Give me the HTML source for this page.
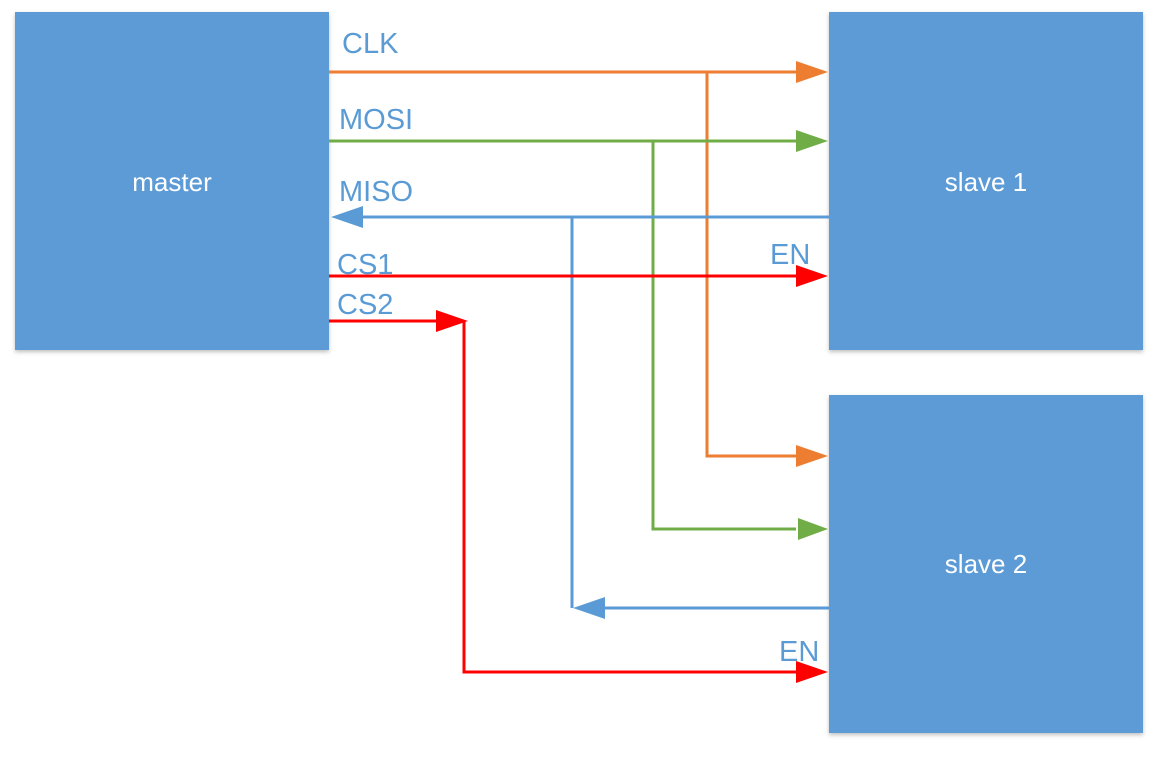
<!DOCTYPE html>
<html><head><style>
body{margin:0;background:#fff;width:1168px;height:752px;overflow:hidden}
</style></head><body>
<svg width="1168" height="752" xmlns="http://www.w3.org/2000/svg" font-family="Liberation Sans, sans-serif">
<defs>
<filter id="s" x="-5%" y="-5%" width="110%" height="110%"><feDropShadow dx="0" dy="2" stdDeviation="2" flood-opacity="0.25"/></filter>
</defs>
<rect x="15" y="12" width="314" height="338" fill="#5b9bd5" filter="url(#s)"/>
<rect x="829" y="12" width="314" height="338" fill="#5b9bd5" filter="url(#s)"/>
<rect x="829" y="395" width="314" height="338" fill="#5b9bd5" filter="url(#s)"/>
<g fill="#fff" font-size="26" text-anchor="middle">
<text x="172" y="191">master</text>
<text x="986" y="191">slave 1</text>
<text x="986" y="573">slave 2</text>
</g>
<g fill="none" stroke-width="3">
<path d="M329 72H796M707 72V456H796" stroke="#ed7d31"/>
<path d="M329 141H796M653 141V529H796" stroke="#70ad47"/>
<path d="M829 217H362M572 217V608M829 608H605" stroke="#5b9bd5"/>
<path d="M329 276H796" stroke="#f00"/>
<path d="M329 321H436M464 321V672H796" stroke="#f00"/>
</g>
<g>
<polygon points="796,61 828,72 796,83" fill="#ed7d31"/>
<polygon points="796,445 828,456 796,467" fill="#ed7d31"/>
<polygon points="796,130 828,141 796,152" fill="#70ad47"/>
<polygon points="798,518 828,529 798,540" fill="#70ad47"/>
<polygon points="363,206 331,217 363,228" fill="#5b9bd5"/>
<polygon points="605,597 573,608 605,619" fill="#5b9bd5"/>
<polygon points="796,265 828,276 796,287" fill="#f00"/>
<polygon points="436,310 468,321 436,332" fill="#f00"/>
<polygon points="796,661 828,672 796,683" fill="#f00"/>
</g>
<g fill="#5b9bd5" font-size="29">
<text x="342" y="53">CLK</text>
<text x="339" y="129">MOSI</text>
<text x="339" y="201">MISO</text>
<text x="337" y="274">CS1</text>
<text x="337" y="314">CS2</text>
<text x="770" y="264">EN</text>
<text x="779" y="661">EN</text>
</g>
</svg>
</body></html>
